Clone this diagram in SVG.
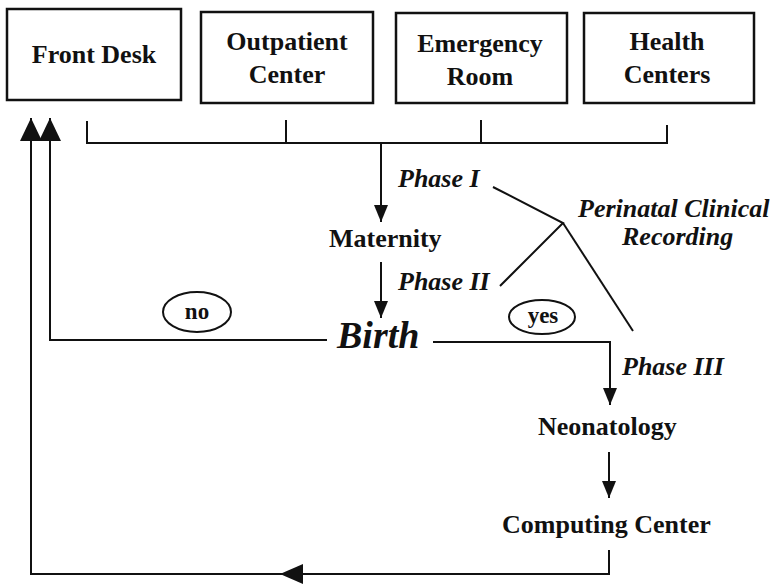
<svg xmlns="http://www.w3.org/2000/svg" width="775" height="584" viewBox="0 0 775 584">
<style>
.box{fill:none;stroke:#111;stroke-width:2.5}
.ln{fill:none;stroke:#111;stroke-width:2}
.t{font-family:"Liberation Serif","Times New Roman",serif;font-weight:bold;font-size:26px;fill:#111}
.c{text-anchor:middle}
.i{font-style:italic}
.ov{fill:none;stroke:#111;stroke-width:2}
</style>
<defs>
<marker id="big" markerUnits="userSpaceOnUse" markerWidth="23" markerHeight="22" refX="23" refY="11" orient="auto">
<path d="M0,0 L23,11 L0,22 z" fill="#111"/>
</marker>
<marker id="small" markerUnits="userSpaceOnUse" markerWidth="17" markerHeight="14" refX="17" refY="7" orient="auto">
<path d="M0,0 L17,7 L0,14 z" fill="#111"/>
</marker>
</defs>
<rect width="775" height="584" fill="#fff"/>
<g id="front-desk">
<rect class="box" x="7" y="9" width="174" height="91"/>
<text class="t c" x="94" y="63">Front Desk</text>
</g>
<g id="outpatient-center">
<rect class="box" x="201" y="12" width="172" height="91"/>
<text class="t c" x="287" y="50">Outpatient</text>
<text class="t c" x="287" y="83">Center</text>
</g>
<g id="emergency-room">
<rect class="box" x="396" y="13" width="171" height="90"/>
<text class="t c" x="480" y="52">Emergency</text>
<text class="t c" x="480" y="85">Room</text>
</g>
<g id="health-centers">
<rect class="box" x="584" y="13" width="170" height="90"/>
<text class="t c" x="667" y="50">Health</text>
<text class="t c" x="667" y="83">Centers</text>
</g>
<g id="maternity">
<text class="t" x="329" y="247">Maternity</text>
</g>
<g id="birth">
<text class="t i" x="337" y="348" style="font-size:38px">Birth</text>
</g>
<g id="perinatal-clinical-recording">
<text class="t i" x="578" y="217">Perinatal Clinical</text>
<text class="t i" x="622" y="245">Recording</text>
</g>
<g id="neonatology">
<text class="t" x="538" y="435">Neonatology</text>
</g>
<g id="computing-center">
<text class="t" x="502" y="533">Computing Center</text>
</g>
<g id="no">
<ellipse class="ov" cx="197" cy="312" rx="34" ry="20"/>
<text class="t c" x="197" y="319" style="font-size:23px">no</text>
</g>
<g id="yes">
<ellipse class="ov" cx="542" cy="317" rx="33" ry="17"/>
<text class="t c" x="543" y="323" style="font-size:23px">yes</text>
</g>
<g id="labels">
<text class="t i" x="398" y="187">Phase I</text>
<text class="t i" x="398" y="290">Phase II</text>
<text class="t i" x="622" y="375">Phase III</text>
</g>
<g id="connectors">
<path class="ln" d="M87,121 V143 H667 V125"/>
<path class="ln" d="M286,120 V143"/>
<path class="ln" d="M481,120 V143"/>
<path class="ln" d="M381,143 V222" marker-end="url(#small)"/>
<path class="ln" d="M381,262 V318" marker-end="url(#small)"/>
<path class="ln" d="M493,187 L563,223 L500,286"/>
<path class="ln" d="M563,223 L633,331"/>
<path class="ln" d="M327,340 H50 V118" marker-end="url(#big)"/>
<path class="ln" d="M433,342 H610 V405" marker-end="url(#small)"/>
<path class="ln" d="M609,452 V498" marker-end="url(#small)"/>
<path class="ln" d="M609,550 V574 H31 V118" marker-end="url(#big)"/>
<path d="M280,574 L303,564 L303,584 z" fill="#111"/>
</g>
</svg>
